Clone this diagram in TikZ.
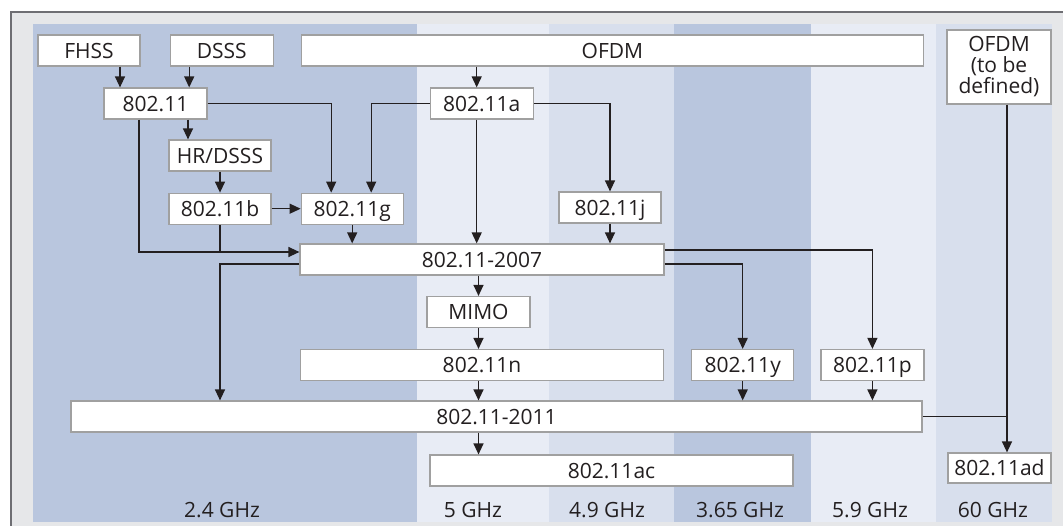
\documentclass[tikz,border=0pt]{standalone}
\usepackage{fontspec}
\setmainfont{Open Sans}
\usetikzlibrary{
  arrows.meta,
  positioning,
  calc
}
\definecolor{framegray}{RGB}{230,231,233}
\definecolor{frameline}{RGB}{110,110,115}
\definecolor{banddark}{RGB}{185,198,222}
\definecolor{bandmid}{RGB}{216,223,237}
\definecolor{bandlight}{RGB}{232,236,245}
\definecolor{boxline}{RGB}{160,160,160}
\definecolor{inkgray}{RGB}{35,31,32}
\tikzset{
  stdbox/.style={
    draw=boxline, fill=white, line width=1.2pt,
    minimum width=103pt, minimum height=31pt,
    inner sep=0pt, text height=15pt, text depth=0pt,
    align=center, font=\fontsize{21}{22}\selectfont\color{inkgray}
  },
  tallbox/.style={
    draw=boxline, fill=white, line width=1.2pt,
    minimum width=104pt, minimum height=74pt,
    inner sep=0pt, align=center,
    font=\fontsize{21}{21}\selectfont\color{inkgray}
  },
  flowarrow/.style={
    -{Triangle[length=11pt,width=10pt]},
    draw=inkgray, line width=1.3pt
  },
  flowline/.style={
    draw=inkgray, line width=1.3pt
  },
  bandlabel/.style={
    inner sep=0pt, text height=15pt, text depth=0pt,
    font=\fontsize{21}{22}\selectfont\color{inkgray}
  },
}

\begin{document}
\begin{tikzpicture}[x=1pt, y=-1pt]

  \fill[white] (0,0) rectangle (1063,525);
  \clip (0,0) rectangle (1063,525);

  %% Frame and frequency bands
  \fill[framegray] (11,12) rectangle (1075,540);
  \draw[frameline, line width=1.2pt] (11,540) -- (11,12) -- (1075,12);
  \fill[banddark]  (33,24)  rectangle (417,522);
  \fill[bandlight] (417,24) rectangle (549,522);
  \fill[bandmid]   (549,24) rectangle (674,522);
  \fill[banddark]  (674,24) rectangle (811,522);
  \fill[bandlight] (811,24) rectangle (936,522);
  \fill[bandmid]   (936,24) rectangle (1052,522);

  \node[bandlabel] (f24)  at (222,510) {2.4 GHz};
  \node[bandlabel] (f5)   at (473,510) {5 GHz};
  \node[bandlabel] (f49)  at (607,510) {4.9 GHz};
  \node[bandlabel] (f365) at (740,510) {3.65 GHz};
  \node[bandlabel] (f59)  at (870,510) {5.9 GHz};
  \node[bandlabel] (f60)  at (993,510) {60 GHz};

  %% Modulations
  \node[stdbox, minimum width=102pt] (fhss) at (89,50.5) {FHSS};
  \node[stdbox, right=29pt of fhss] (dsss) {DSSS};
  \node[stdbox, minimum width=622pt, right=27pt of dsss] (ofdm) {OFDM};
  \node[tallbox] (ofdmtbd) at (999,67) {OFDM\\(to be\\defined)};

  %% Standards
  \node[stdbox] (s80211) at (155.5,103.5) {802.11};
  \node[stdbox, right=222pt of s80211] (s11a) {802.11a};
  \node[stdbox, minimum width=102pt] (hrdsss) at (220,155.5) {HR/DSSS};
  \node[stdbox, minimum width=102pt, below=21pt of hrdsss] (s11b) {802.11b};
  \node[stdbox, minimum width=102pt, right=29pt of s11b] (s11g) {802.11g};
  \node[stdbox, minimum width=102pt] (s11j) at (610,207.5) {802.11j};

  \node[stdbox, minimum width=364pt] (s2007) at (482,259.5) {802.11-2007};
  \node[stdbox] (mimo) at (478.5,312) {MIMO};
  \node[stdbox, minimum width=363pt] (s11n) at (482,365) {802.11n};
  \node[stdbox, minimum width=102pt, right=27pt of s11n] (s11y) {802.11y};
  \node[stdbox, right=26pt of s11y] (s11p) {802.11p};
  \node[stdbox, minimum width=851pt] (s2011) at (496.5,416.5) {802.11-2011};
  \node[stdbox, minimum width=363pt] (s11ac) at (611.5,470.5) {802.11ac};
  \node[stdbox, minimum height=30pt] (s11ad) at (999.5,468) {802.11ad};

  %% Arrows, upper part
  \draw[flowarrow] ([xshift=31pt]fhss.south)
    -- ([xshift=31pt]fhss.south |- s80211.north);
  \draw[flowarrow] ([xshift=-32.5pt]dsss.south)
    -- ([xshift=-32.5pt]dsss.south |- s80211.north);
  \draw[flowarrow] ([xshift=-32pt]hrdsss.north |- s80211.south)
    -- ([xshift=-32pt]hrdsss.north);
  \draw[flowarrow] (hrdsss.south) -- (s11b.north);
  \draw[flowarrow] (s11b.east) -- (s11g.west);
  \draw[flowarrow] (s80211.east) -| ([xshift=-21pt]s11g.north);
  \draw[flowarrow] (s11a.west) -| ([xshift=19pt]s11g.north);
  \draw[flowarrow] ([xshift=-5pt]s11a.north |- ofdm.south)
    -- ([xshift=-5pt]s11a.north);
  \draw[flowarrow] (s11a.east) -| (s11j.north);

  %% Into 802.11-2007
  \coordinate (join07) at ([yshift=7.5pt]s2007.west);
  \draw[flowarrow] ([xshift=-16.5pt]s80211.south) |- (join07);
  \draw[flowline] (s11b.south) -- (s11b.south |- join07);
  \draw[flowarrow] (s11g.south) -- (s11g.south |- s2007.north);
  \draw[flowarrow] ([xshift=-5pt]s11a.south)
    -- ([xshift=-5pt]s11a.south |- s2007.north);
  \draw[flowarrow] (s11j.south) -- (s11j.south |- s2007.north);

  %% Out of 802.11-2007
  \draw[flowarrow] ([yshift=-4.5pt]s2007.west) -| (s11b.south |- s2011.north);
  \draw[flowarrow] ([yshift=9.5pt]s2007.east) -| (s11p.north);
  \draw[flowarrow] ([yshift=-4.5pt]s2007.east) -| (s11y.north);
  \draw[flowarrow] (mimo.north |- s2007.south) -- (mimo.north);
  \draw[flowarrow] (mimo.south) -- (mimo.south |- s11n.north);

  %% Into and out of 802.11-2011
  \draw[flowarrow] (mimo.south |- s11n.south) -- (mimo.south |- s2011.north);
  \draw[flowarrow] (s11y.south) -- (s11y.south |- s2011.north);
  \draw[flowarrow] (s11p.south) -- (s11p.south |- s2011.north);
  \draw[flowarrow] (mimo.south |- s2011.south) -- (mimo.south |- s11ac.north);

  %% 60 GHz
  \draw[flowarrow] ([xshift=8pt]ofdmtbd.south)
    -- ([xshift=8pt]ofdmtbd.south |- s11ad.north);
  \draw[flowline] (s2011.east) -- ([xshift=8pt]ofdmtbd.south |- s2011.east);

\end{tikzpicture}
\end{document}
